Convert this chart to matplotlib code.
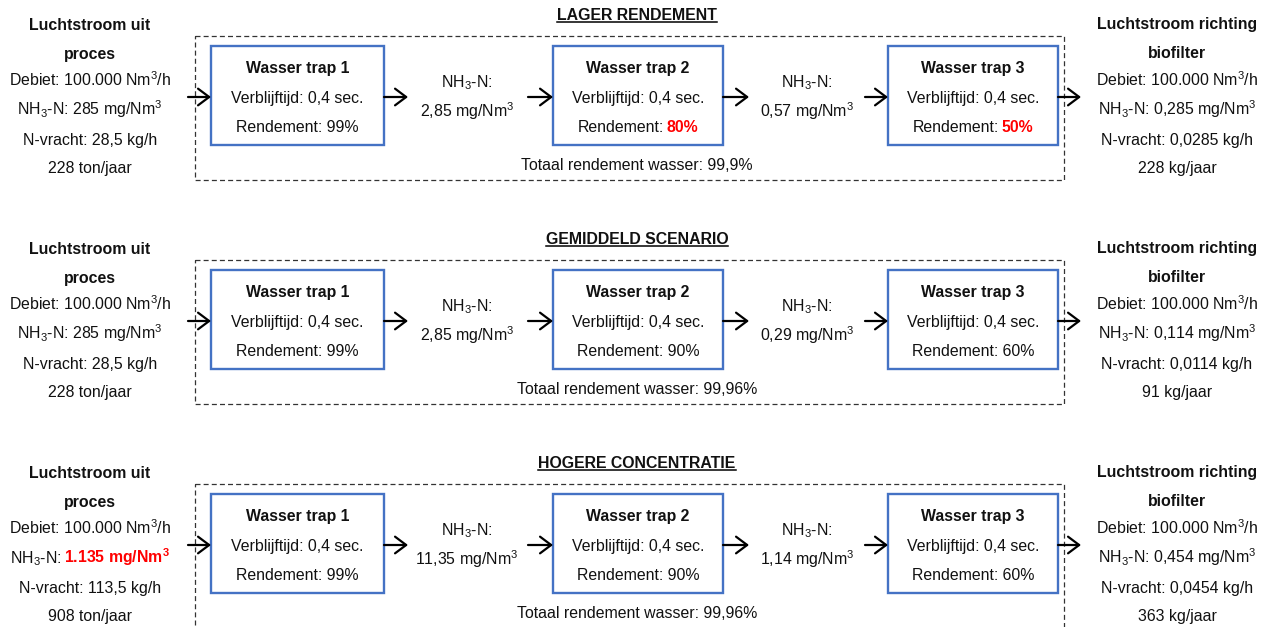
import matplotlib
matplotlib.use("Agg")
import matplotlib.pyplot as plt
from matplotlib.patches import Rectangle

plt.rcParams['font.family'] = ['Liberation Sans', 'DejaVu Sans']
plt.rcParams['mathtext.fontset'] = 'custom'
plt.rcParams['mathtext.rm'] = 'Liberation Sans'
plt.rcParams['mathtext.it'] = 'Liberation Sans:italic'
plt.rcParams['mathtext.bf'] = 'Liberation Sans:bold'

# ---------------- data ----------------
titles = ["LAGER RENDEMENT", "GEMIDDELD SCENARIO", "HOGERE CONCENTRATIE"]
debiet = "100.000"
in_conc = ["285", "285", "1.135"]
in_conc_red = [False, False, True]
in_load = ["28,5", "28,5", "113,5"]
in_year = ["228 ton/jaar", "228 ton/jaar", "908 ton/jaar"]
stage_names = ["Wasser trap 1", "Wasser trap 2", "Wasser trap 3"]
residence = "0,4"
rend = [["99%", "80%", "50%"], ["99%", "90%", "60%"], ["99%", "90%", "60%"]]
rend_red = [[False, True, True], [False, False, False], [False, False, False]]
mid1 = ["2,85", "2,85", "11,35"]
mid2 = ["0,57", "0,29", "1,14"]
total = ["99,9%", "99,96%", "99,96%"]
out_conc = ["0,285", "0,114", "0,454"]
out_load = ["0,0285", "0,0114", "0,0454"]
out_year = ["228 kg/jaar", "91 kg/jaar", "363 kg/jaar"]

# ---------------- layout ----------------
W, H = 1270, 627
fig = plt.figure(figsize=(12.7, 6.27), dpi=100)
ax = fig.add_axes([0, 0, 1, 1])
ax.set_xlim(0, W)
ax.set_ylim(H, 0)
ax.axis('off')
fig.canvas.draw()
renderer = fig.canvas.get_renderer()

FS = 11.4
BLUE = '#4472C4'
RED = '#FF0000'
SPACE = 3.3
TXT = '#111111'


def seg_text(xc, yc, segs, size=FS):
    """segs: list of (text, kwargs). centered at xc, vertical center yc."""
    base = yc + 5.5
    objs = []
    total_w = 0
    for s, kw in segs:
        kw = dict(kw)
        kw.setdefault('color', TXT)
        t = ax.text(0, base, s, ha='left', va='baseline', fontsize=size, **kw)
        w = t.get_window_extent(renderer).width
        objs.append((t, w))
        total_w += w
    total_w += SPACE * (len(segs) - 1)
    x = xc - total_w / 2
    for t, w in objs:
        t.set_x(x)
        x += w + SPACE
    return total_w


def ctext(xc, yc, s, size=FS, **kw):
    kw.setdefault('color', TXT)
    return ax.text(xc, yc + 5.5, s, ha='center', va='baseline', fontsize=size, **kw)


def arrow(x0, x1, y):
    ax.annotate('', xy=(x1, y), xytext=(x0, y),
                arrowprops=dict(arrowstyle='->,head_length=0.4,head_width=0.3',
                                color='black', lw=1.6,
                                mutation_scale=20, shrinkA=0, shrinkB=0))


box_x = [(211, 384), (553, 723), (888, 1058)]
offsets = [0, 224, 448]

for p, off in enumerate(offsets):
    # title
    t = ctext(637, 14 + off, titles[p], fontweight='bold')
    w = t.get_window_extent(renderer).width
    ax.plot([637 - w / 2, 637 + w / 2], [22 + off, 22 + off], color='black', lw=1.1)

    # dashed box
    ax.add_patch(Rectangle((195, 36 + off), 1064 - 195, 144, fill=False,
                           edgecolor='#333333', lw=0.9, ls=(0, (4, 2.5))))

    # stage boxes
    for s, (x0, x1) in enumerate(box_x):
        ax.add_patch(Rectangle((x0, 46 + off), x1 - x0, 99, fill=False,
                               edgecolor=BLUE, lw=1.7))
        xc = (x0 + x1) / 2
        ctext(xc, 68 + off, stage_names[s], fontweight='bold')
        ctext(xc, 97 + off, f"Verblijftijd: {residence} sec.")
        if rend_red[p][s]:
            seg_text(xc, 126 + off, [("Rendement:", {}),
                                     (rend[p][s], dict(color=RED, fontweight='bold'))])
        else:
            ctext(xc, 126 + off, f"Rendement: {rend[p][s]}")

    # left text
    lx = 90
    ctext(lx, 24 + off, "Luchtstroom uit", fontweight='bold')
    ctext(lx, 53 + off, "proces", fontweight='bold')
    ctext(lx, 81 + off, f"Debiet: {debiet} Nm$^3$/h")
    if in_conc_red[p]:
        seg_text(lx, 110 + off, [("NH$_3$-N:", {}),
                                 (f"{in_conc[p]} mg/Nm$^\\mathbf{{3}}$",
                                  dict(color=RED, fontweight='bold'))])
    else:
        ctext(lx, 110 + off, f"NH$_3$-N: {in_conc[p]} mg/Nm$^3$")
    ctext(lx, 139 + off, f"N-vracht: {in_load[p]} kg/h")
    ctext(lx, 168 + off, in_year[p])

    # right text
    rx = 1177
    ctext(rx, 24 + off, "Luchtstroom richting", fontweight='bold')
    ctext(rx, 53 + off, "biofilter", fontweight='bold')
    ctext(rx, 81 + off, f"Debiet: {debiet} Nm$^3$/h")
    ctext(rx, 110 + off, f"NH$_3$-N: {out_conc[p]} mg/Nm$^3$")
    ctext(rx, 139 + off, f"N-vracht: {out_load[p]} kg/h")
    ctext(rx, 168 + off, out_year[p])

    # mid concentrations
    for mx, val in ((467, mid1[p]), (807, mid2[p])):
        ctext(mx, 82 + off, "NH$_3$-N:")
        ctext(mx, 111 + off, f"{val} mg/Nm$^3$")

    # total
    ctext(637, 165 + off, f"Totaal rendement wasser: {total[p]}")

    # arrows
    for x0, x1 in ((188, 211), (384, 408), (528, 553), (723, 749), (865, 888), (1058, 1081)):
        arrow(x0, x1, 97 + off)

fig.savefig('out.png', dpi=100)
